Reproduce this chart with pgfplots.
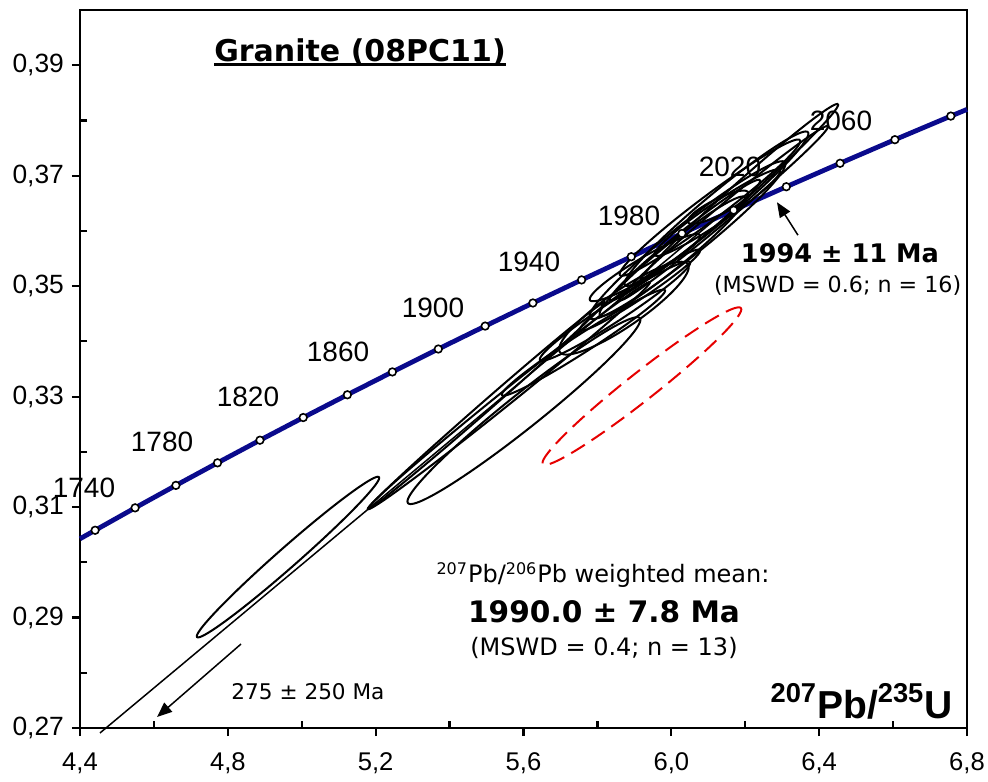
\documentclass[border=0pt]{standalone}
\usepackage{fontspec}
\setmainfont{Liberation Sans}
\newfontfamily\verd{DejaVu Sans}
\usepackage{pgfplots}
\pgfplotsset{compat=1.18}
\usetikzlibrary{arrows.meta,calc}

\definecolor{concblue}{RGB}{10,10,140}
\definecolor{ellred}{RGB}{230,0,0}

% error ellipse from its two tips (x1,y1) (x2,y2) and half width #5 (px)
\newcommand\ellip[6]{%
  \addplot[#6, domain=0:360, samples=121, variable=\t, smooth]
  ({(#1+#3)/2 + (#3-#1)/2*cos(\t) - (#4-#2)/2*5525/369.6*#5/veclen((#3-#1)/2*369.6,(#4-#2)/2*5525)*sin(\t)},
   {(#2+#4)/2 + (#4-#2)/2*cos(\t) + (#3-#1)/2*369.6/5525*#5/veclen((#3-#1)/2*369.6,(#4-#2)/2*5525)*sin(\t)});
}
\newcommand\thul[1]{\setbox0\hbox{#1}\rlap{\rule[-2.4pt]{\wd0}{1.4pt}}\box0}

\begin{document}
\begin{tikzpicture}
\begin{axis}[
  scale only axis, width=443.5pt, height=359pt,
  xmin=4.4, xmax=6.8, ymin=0.27, ymax=0.40,
  xtick={4.4,4.8,5.2,5.6,6.0,6.4,6.8},
  ytick={0.27,0.29,0.31,0.33,0.35,0.37,0.39},
  minor x tick num=1, minor y tick num=1,
  xtick pos=bottom, ytick pos=left,
  clip=false, scaled ticks=false,
  axis line style={line width=1.2pt},
  every tick/.style={black, line width=1.1pt},
  tick align=outside, major tick length=4pt, minor tick length=-3.5pt,
  x tick label style={font=\fontsize{12.8}{14}\selectfont, yshift=-5pt,
    /pgf/number format/.cd, fixed, fixed zerofill, precision=1, use comma, assume math mode=true},
  y tick label style={font=\fontsize{13.2}{14}\selectfont, xshift=-0.5pt,
    /pgf/number format/.cd, fixed, fixed zerofill, precision=2, use comma, assume math mode=true},
]
% concordia
\addplot[concblue, line width=2.4pt] coordinates {
 (4.4,0.30426) (4.4409,0.30580) (4.5491,0.30986) (4.6595,0.31393) (4.7721,0.31801)
 (4.8869,0.32211) (5.0040,0.32621) (5.1234,0.33033) (5.2452,0.33447) (5.3695,0.33862)
 (5.4962,0.34277) (5.6254,0.34695) (5.7572,0.35113) (5.8916,0.35533) (6.0287,0.35954)
 (6.1685,0.36376) (6.3111,0.36800) (6.4566,0.37225) (6.6049,0.37652) (6.7562,0.38079)
 (6.8,0.38200)};

% discordia
\addplot[black, line width=0.75pt] coordinates {(4.4541,0.2691) (6.1263,0.3625)};

% error ellipses
\ellip{4.7166}{0.28647}{5.2090}{0.31543}{10}{black, line width=1pt}
\ellip{5.1792}{0.30964}{5.8205}{0.34710}{5}{black, line width=1pt}
\ellip{5.1792}{0.30964}{5.9422}{0.35072}{7}{black, line width=1pt}
\ellip{5.2874}{0.31072}{5.9152}{0.34421}{17}{black, line width=1pt}
\ellip{5.5418}{0.33027}{5.9828}{0.34928}{9}{black, line width=1pt}
\ellip{5.6446}{0.33661}{6.0504}{0.35434}{10}{black, line width=1pt}
\ellip{5.7528}{0.34204}{6.0775}{0.35652}{8}{black, line width=1pt}
\ellip{5.6987}{0.33805}{6.0450}{0.35398}{18}{black, line width=1pt}
\ellip{5.8069}{0.34475}{6.1992}{0.36611}{12}{black, line width=1pt}
\ellip{5.8746}{0.35018}{6.3697}{0.37787}{14}{black, line width=1pt}
\ellip{5.9152}{0.35072}{6.4509}{0.38294}{9}{black, line width=1pt}
\ellip{5.8610}{0.34747}{6.4238}{0.37896}{8}{black, line width=1pt}
\ellip{6.0450}{0.36158}{6.2074}{0.36701}{8}{black, line width=1pt}
\ellip{5.7799}{0.34747}{6.0775}{0.35923}{10}{black, line width=1pt}
\ellip{5.8340}{0.34747}{6.2398}{0.36919}{9}{black, line width=1pt}
\ellip{5.9557}{0.35561}{6.2939}{0.37100}{10}{black, line width=1pt}
\ellip{5.7799}{0.34421}{6.3075}{0.37244}{16}{black, line width=1pt}
\ellip{5.8610}{0.35199}{6.3481}{0.37643}{12}{black, line width=1pt}
\ellip{5.6527}{0.31778}{6.1884}{0.34602}{14}{ellred, line width=1pt, dash pattern=on 8pt off 4pt}

% concordia age marks (every 20 Ma)
\addplot[only marks, mark=*, mark size=1.9pt, mark options={fill=white, draw=black, line width=0.8pt}] coordinates {
 (4.4409,0.30580) (4.5491,0.30986) (4.6595,0.31393) (4.7721,0.31801)
 (4.8869,0.32211) (5.0040,0.32621) (5.1234,0.33033) (5.2452,0.33447) (5.3695,0.33862)
 (5.4962,0.34277) (5.6254,0.34695) (5.7572,0.35113) (5.8916,0.35533) (6.0287,0.35954)
 (6.1685,0.36376) (6.3111,0.36800) (6.4566,0.37225) (6.6049,0.37652) (6.7562,0.38079)};

% age labels
\begin{scope}[every node/.style={font=\fontsize{14}{16}\selectfont}]
\node at (axis cs:4.4108,0.31344) {1740};
\node at (axis cs:4.6219,0.32176) {1780};
\node at (axis cs:4.8545,0.32991) {1820};
\node at (axis cs:5.0981,0.33805) {1860};
\node at (axis cs:5.3551,0.34602) {1900};
\node at (axis cs:5.6148,0.35434) {1940};
\node at (axis cs:5.8854,0.36267) {1980};
\node at (axis cs:6.1587,0.37154) {2020};
\node at (axis cs:6.4590,0.37986) {2060};
\end{scope}

% annotations
\node at (axis cs:5.1576,0.39235) {\verd\bfseries\fontsize{15}{18}\selectfont\thul{Granite (08PC11)}};
\node at (axis cs:6.4560,0.35597) {\verd\bfseries\fontsize{12.8}{14}\selectfont 1994 ± 11 Ma};
\node at (axis cs:6.4500,0.35018) {\verd\fontsize{11.1}{13}\selectfont (MSWD = 0.6; n = 16)};
\node at (axis cs:5.8151,0.29769) {\verd\fontsize{12}{14}\selectfont\textsuperscript{207}Pb/\textsuperscript{206}Pb weighted mean:};
\node at (axis cs:5.8178,0.29100) {\verd\bfseries\fontsize{14.8}{17}\selectfont 1990.0 ± 7.8 Ma};
\node at (axis cs:5.8178,0.28448) {\verd\fontsize{12}{14}\selectfont (MSWD = 0.4; n = 13)};
\node at (axis cs:5.0169,0.27652) {\verd\fontsize{10.8}{12}\selectfont 275 ± 250 Ma};
\node[anchor=base east, inner sep=0pt] at (axis cs:6.7620,0.27181)
  {\bfseries\fontsize{19.5}{22}\selectfont\textsuperscript{207}Pb/\textsuperscript{235}U};
\draw[line width=0.75pt, -{Triangle[length=7.5pt,width=6pt]}] (axis cs:6.3426,0.35923) -- (axis cs:6.2858,0.36520);
\draw[line width=0.75pt, -{Triangle[length=7.5pt,width=6pt]}] (axis cs:4.8356,0.28520) -- (axis cs:4.6083,0.27199);
\end{axis}
\pgfresetboundingbox
\path[use as bounding box] ($(current axis.south west)+(-40pt,-26.5pt)$) rectangle ($(current axis.north east)+(10.5pt,5pt)$);
\end{tikzpicture}
\end{document}
